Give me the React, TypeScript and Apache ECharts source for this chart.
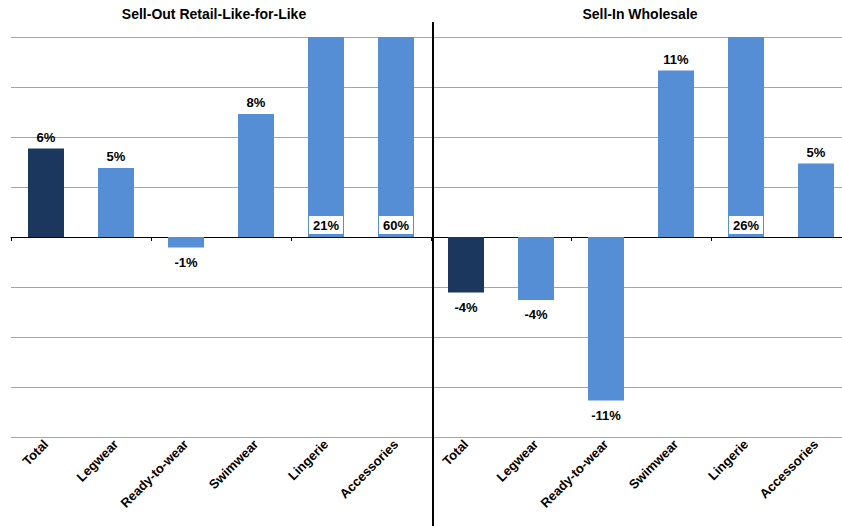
import React, { useEffect, useRef } from 'react';
import * as echarts from 'echarts';

const categories = ['Total', 'Legwear', 'Ready-to-wear', 'Swimwear', 'Lingerie', 'Accessories'];
const sellOutValues = [5.9, 4.6, -0.7, 8.2, 21, 60];
const sellInValues = [-3.7, -4.2, -10.9, 11.1, 26, 4.9];
const panelTitles = ['Sell-Out Retail-Like-for-Like', 'Sell-In Wholesale'];

const AXIS_STEP = 10 / 3;
const AXIS_MIN = -4 * AXIS_STEP;
const AXIS_MAX = 4 * AXIS_STEP;

const FONT = 'Liberation Sans, Arial, sans-serif';
const DARK = '#1B375D';
const LIGHT = '#558ED5';

function buildData(values: number[]) {
  return values.map((v, i) => {
    const clipped = v > AXIS_MAX;
    const label: any = clipped
      ? {
          position: 'insideBottom',
          distance: 3,
          backgroundColor: '#ffffff',
          padding: [3, 4, 2, 4],
        }
      : v < 0
      ? { position: 'bottom', distance: 8 }
      : { position: 'top', distance: 5 };
    return {
      value: v,
      itemStyle: { color: i === 0 ? DARK : LIGHT },
      label,
    };
  });
}

export default function App() {
  const ref = useRef<HTMLDivElement>(null);
  useEffect(() => {
    if (!ref.current) return;
    const chart = echarts.init(ref.current, null, { renderer: 'svg' });
    const grids = [
      { left: 11, top: 37, width: 420, height: 400 },
      { left: 431, top: 37, width: 420, height: 400 },
    ];
    const xAxis: any[] = [];
    const yAxis: any[] = [];
    const series: any[] = [];
    [sellOutValues, sellInValues].forEach((vals, g) => {
      xAxis.push({
        type: 'category',
        gridIndex: g,
        data: categories,
        position: 'bottom',
        axisLine: { show: false, onZero: false },
        axisTick: { show: false },
        axisLabel: {
          rotate: 45,
          margin: 5,
          fontFamily: FONT,
          fontWeight: 'bold',
          fontSize: 13,
          color: '#000000',
          interval: 0,
        },
      });
      xAxis.push({
        type: 'category',
        gridIndex: g,
        data: categories,
        position: 'bottom',
        axisLine: { show: true, onZero: true, lineStyle: { color: '#000000', width: 1 } },
        axisTick: { show: true, length: 4, lineStyle: { color: '#000000' } },
        axisLabel: { show: false },
      });
      yAxis.push({
        type: 'value',
        gridIndex: g,
        min: AXIS_MIN,
        max: AXIS_MAX,
        interval: AXIS_STEP,
        axisLine: { show: false },
        axisTick: { show: false },
        axisLabel: { show: false },
        splitLine: { show: true, lineStyle: { color: '#A6A6A6', width: 1 } },
      });
      series.push({
        type: 'bar',
        xAxisIndex: g * 2,
        yAxisIndex: g,
        barWidth: 36,
        clip: true,
        data: buildData(vals),
        label: {
          show: true,
          fontFamily: FONT,
          fontWeight: 'bold',
          fontSize: 13,
          color: '#000000',
          formatter: (p: any) => Math.round(p.value) + '%',
        },
      });
    });
    chart.setOption({
      animation: false,
      backgroundColor: '#ffffff',
      grid: grids,
      xAxis,
      yAxis,
      series,
      graphic: [
        {
          type: 'text',
          x: 214,
          y: 14,
          style: {
            text: panelTitles[0],
            font: `bold 14px ${FONT}`,
            fill: '#000000',
            align: 'center',
            verticalAlign: 'middle',
          },
        },
        {
          type: 'text',
          x: 640,
          y: 14,
          style: {
            text: panelTitles[1],
            font: `bold 14px ${FONT}`,
            fill: '#000000',
            align: 'center',
            verticalAlign: 'middle',
          },
        },
        {
          type: 'line',
          shape: { x1: 433, y1: 22, x2: 433, y2: 526 },
          style: { stroke: '#000000', lineWidth: 2 },
          z: 100,
        },
      ],
    });
    return () => chart.dispose();
  }, []);
  return (
    <div
      ref={ref}
      style={{ position: 'fixed', left: 0, top: 0, width: 860, height: 526 }}
    />
  );
}
